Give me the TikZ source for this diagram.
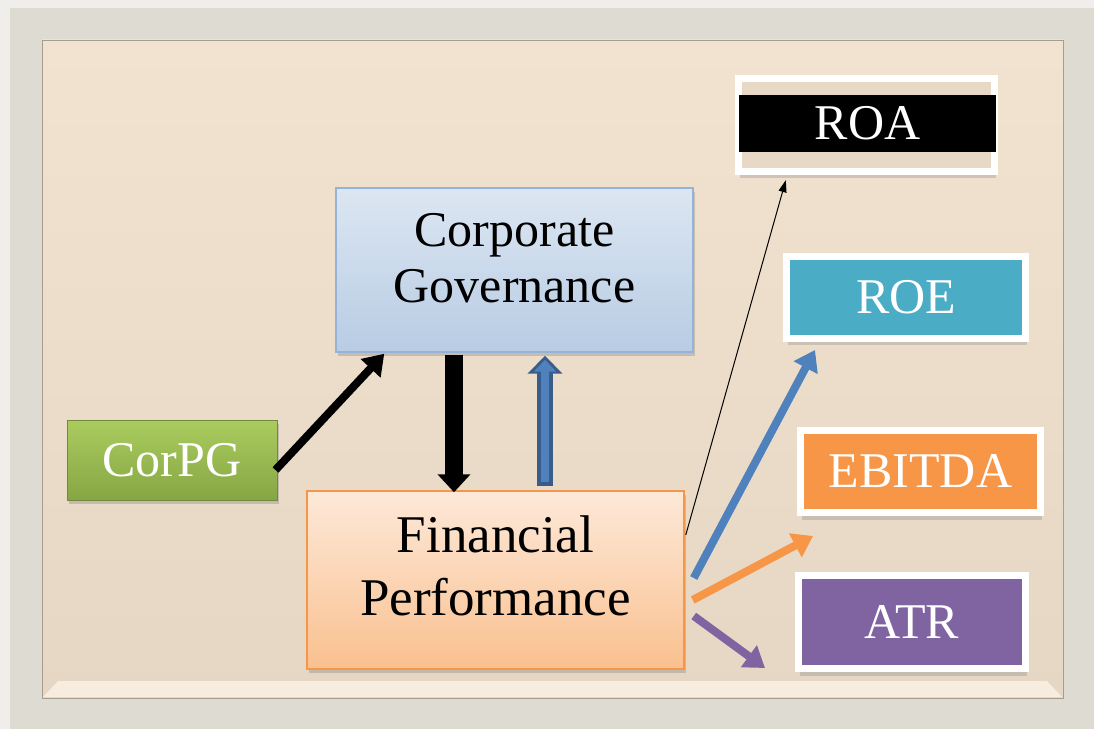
\documentclass[tikz,border=0pt]{standalone}
\usepackage{fontspec}
\setmainfont{Liberation Serif}
\usepackage{tikz}
\usetikzlibrary{arrows.meta, positioning, shadows, calc}
\definecolor{outside}{HTML}{EFEEEA}
\definecolor{rim}{HTML}{DDDBD2}
\definecolor{panelhi}{HTML}{F2E3D1}
\definecolor{panello}{HTML}{E6D6C4}
\definecolor{panel}{HTML}{E8D8C6}
\definecolor{panelline}{HTML}{A59D8E}
\definecolor{bevel}{HTML}{F6EDDF}
\definecolor{roecol}{HTML}{4BACC6}
\definecolor{ebitcol}{HTML}{F79646}
\definecolor{atrcol}{HTML}{8064A2}
\definecolor{arrowblue}{HTML}{4F81BD}
\definecolor{arrowdark}{HTML}{385D8A}
\definecolor{cgtop}{HTML}{DCE6F2}
\definecolor{cgbot}{HTML}{B8CCE4}
\definecolor{cgline}{HTML}{95B3D7}
\definecolor{fptop}{HTML}{FDE9D9}
\definecolor{fpbot}{HTML}{FAC08F}
\definecolor{pgtop}{HTML}{AACC5E}
\definecolor{pgbot}{HTML}{86A644}
\definecolor{pgline}{HTML}{71893F}
\tikzset{
    box/.style={rectangle, inner sep=0pt, font=\fontsize{50}{59}\selectfont, align=center},
    framed/.style={box, draw=white, line width=7pt, text=white,
        drop shadow={shadow xshift=1pt, shadow yshift=-7pt, opacity=0.3}},
    soft/.style={drop shadow={shadow xshift=2pt, shadow yshift=-4pt, opacity=0.35}},
    fat/.style={line width=8pt, -{Triangle[length=20pt, width=26pt]}},
}
\begin{document}
\begin{tikzpicture}[x=1pt, y=1pt]
    \tikzset{
      down/.style={line width=18pt, -{Triangle[length=18pt, width=32pt]}},
      upout/.style={arrowdark, line width=16pt, -{Triangle[length=18pt, width=34pt]}},
      upin/.style={arrowblue, line width=8pt, -{Triangle[length=12pt, width=22pt]}},
      fine/.style={line width=1pt, -{Triangle[length=12pt, width=8pt]}}
    }
    \useasboundingbox (0,0) rectangle (1094,729);
    \fill[outside] (0,0) rectangle (1094,729);
    \fill[rim] (10,0) rectangle (1094,721);
    \draw[panelline, top color=panelhi, bottom color=panello] (42,31) rectangle (1063,689);
    \fill[bevel] (43,32) -- (1062,32) -- (1047,48) -- (58,48) -- cycle;

    \node[framed, fill=panel, minimum width=256, minimum height=93] (roaframe) at (866.5,604) {};
    \node[box, fill=black, text=white, minimum width=257, minimum height=57] (roa) at (867.5,605.5) {ROA};
    \node[framed, fill=roecol, minimum width=239, minimum height=82] (roe) at (906,431.5) {ROE};
    \node[framed, fill=ebitcol, minimum width=240, minimum height=82] (ebitda) at (920.5,257.5) {EBITDA};
    \node[framed, fill=atrcol, minimum width=227, minimum height=93] (atr) at (912,107) {ATR};

    \node[box, soft, draw=cgline, line width=1.5pt, top color=cgtop, bottom color=cgbot,
      font=\fontsize{50}{56}\selectfont, text depth=24pt,
      minimum width=357, minimum height=164] (cg) at (514.5,459) {Corporate\\Governance};
    \node[box, soft, draw=pgline, line width=1pt, top color=pgtop, bottom color=pgbot, text=white,
      minimum width=210, minimum height=80] (corpg) at (172,269) {CorPG};
    \node[box, soft, draw=ebitcol, line width=1.5pt, top color=fptop, bottom color=fpbot,
      font=\fontsize{53}{63}\selectfont, text depth=29pt,
      minimum width=377, minimum height=178] (fp) at (495.5,149) {Financial\\Performance};

    \draw[fat] ([xshift=-2pt,yshift=-10pt]corpg.east) -- ([xshift=49pt,yshift=-1pt]cg.south west);
    \draw[down] ([xshift=-60.5pt,yshift=-2pt]cg.south) -- ([xshift=-41.5pt,yshift=-2pt]fp.north);
    \draw[upout] ([xshift=49.5pt,yshift=4pt]fp.north) -- ([xshift=30.5pt,yshift=-3pt]cg.south);
    \draw[upin] ([xshift=49.5pt,yshift=8pt]fp.north) -- ([xshift=30.5pt,yshift=-7pt]cg.south);
    \draw[fine] ([xshift=1pt,yshift=45pt]fp.east) -- ([xshift=47pt,yshift=-28pt]roa.south west);
    \draw[fat, arrowblue] ([xshift=9pt,yshift=2pt]fp.east) -- ([xshift=32pt,yshift=-8pt]roe.south west);
    \draw[fat, ebitcol] ([xshift=8pt,yshift=-20pt]fp.east) -- ([xshift=16pt,yshift=-20pt]ebitda.south west);
    \draw[fat, atrcol] ([xshift=9pt,yshift=-36pt]fp.east) -- ([xshift=-30pt,yshift=4pt]atr.south west);
\end{tikzpicture}
\end{document}
